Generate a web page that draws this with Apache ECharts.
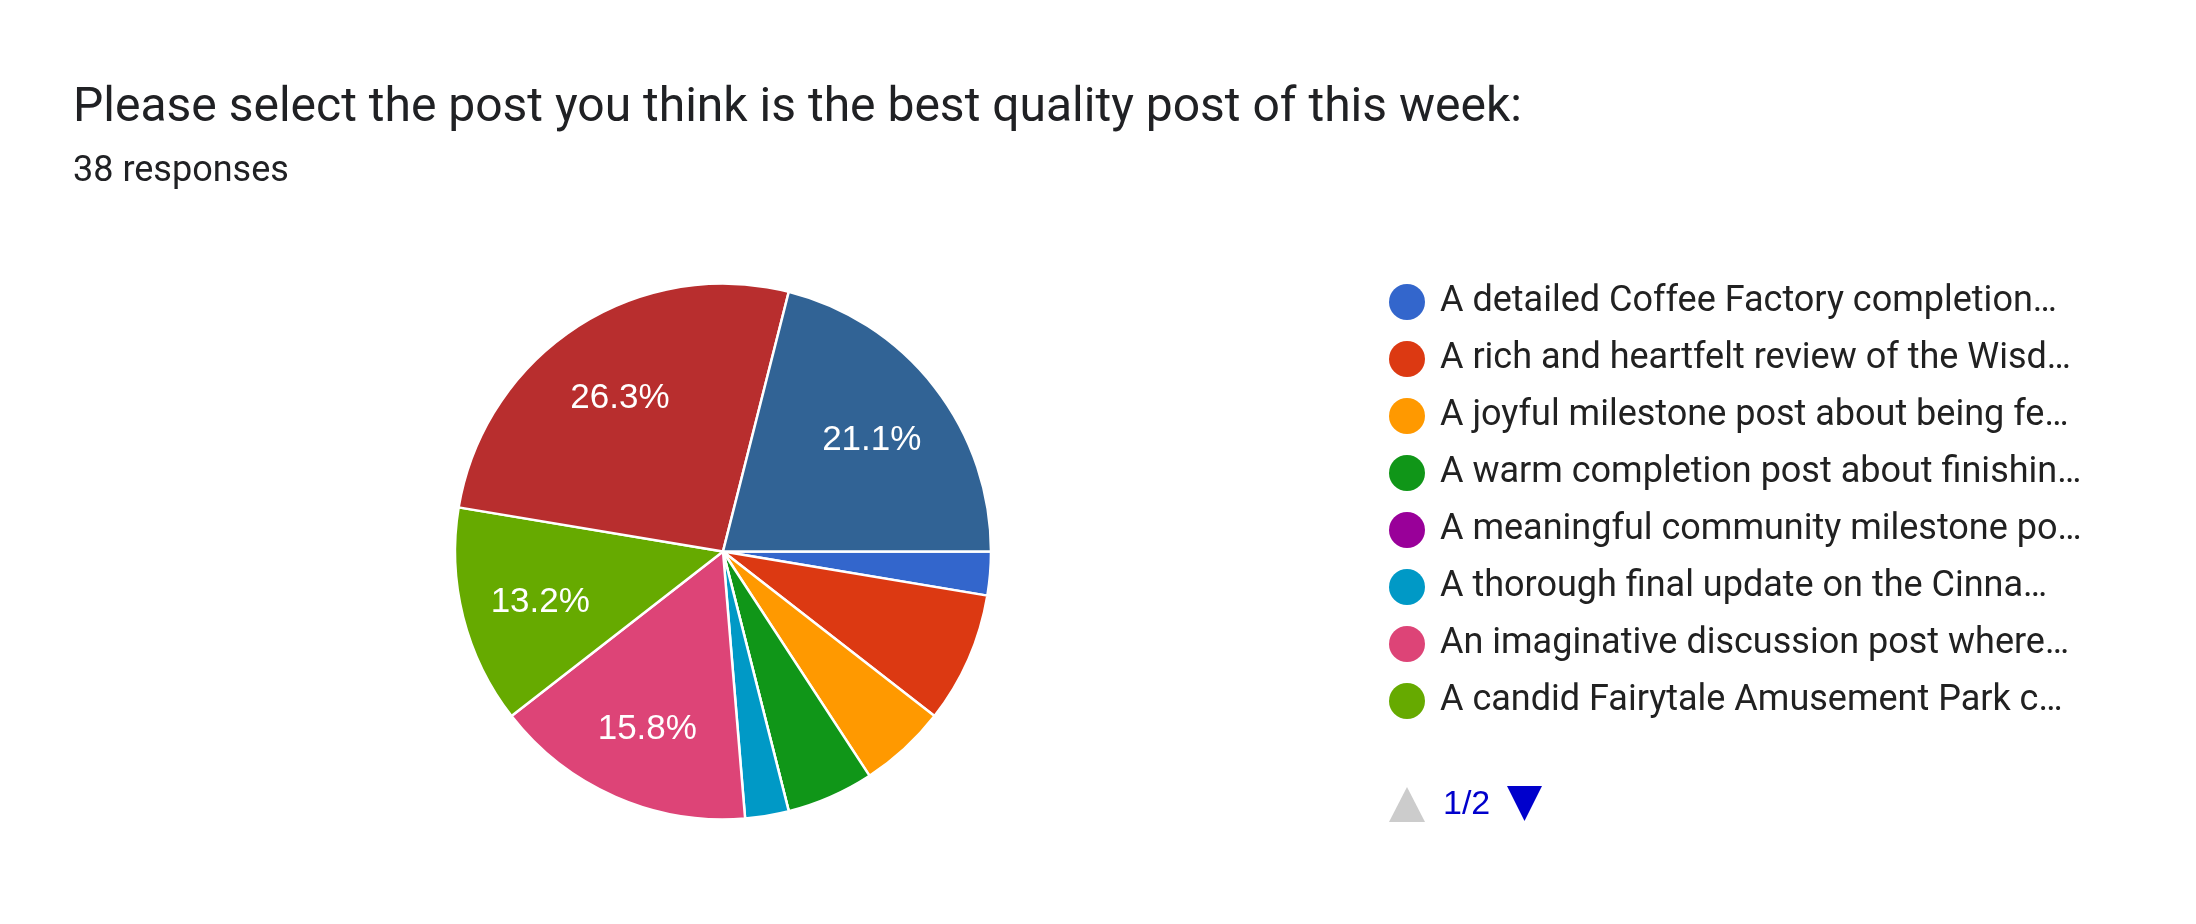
<!DOCTYPE html>
<html><head><meta charset="utf-8">
<script src="https://cdn.jsdelivr.net/npm/echarts@6/dist/echarts.min.js"></script>
<style>html,body{margin:0;padding:0;background:#fff}#c{width:2196px;height:924px}</style>
</head><body><div id="c"></div>
<script>
const titleText = 'Please select the post you think is the best quality post of this week:';
const subtitleText = '38 responses';
const categories = [
  'A detailed Coffee Factory completion\u2026',
  'A rich and heartfelt review of the Wisd\u2026',
  'A joyful milestone post about being fe\u2026',
  'A warm completion post about finishin\u2026',
  'A meaningful community milestone po\u2026',
  'A thorough final update on the Cinna\u2026',
  'An imaginative discussion post where\u2026',
  'A candid Fairytale Amusement Park c\u2026',
  'Page 2 option A\u2026',
  'Page 2 option B\u2026'
];
const votes = [1, 3, 2, 2, 0, 1, 6, 5, 10, 8];
const colors = ['#3366cc', '#dc3912', '#ff9900', '#109618', '#990099', '#0099c6', '#dd4477', '#66aa00', '#b82e2e', '#316395'];
const legendNames = categories.slice(0, 8);
const pagerText = '1/2';

const total = votes.reduce((a, b) => a + b, 0);
const pieData = categories.map((n, i) => ({ name: n, value: votes[i], itemStyle: { color: colors[i] } }));
const labelData = categories.map((n, i) => ({ name: n, value: votes[i] }));

const chart = echarts.init(document.getElementById('c'), null, { renderer: 'canvas' });
chart.setOption({
  animation: false,
  backgroundColor: '#ffffff',
  title: {
    text: titleText, subtext: subtitleText, left: 73, top: 85, itemGap: 20.5, padding: 0,
    textStyle: { fontFamily: 'Roboto', fontSize: 48, fontWeight: 'normal', color: '#202124', lineHeight: 48 },
    subtextStyle: { fontFamily: 'Roboto', fontSize: 36, color: '#202124', lineHeight: 36 }
  },
  legend: {
    orient: 'vertical', left: 1389, top: 284, padding: 0,
    itemWidth: 36, itemHeight: 36, itemGap: 21, icon: 'circle',
    data: legendNames, selectedMode: false,
    itemStyle: { borderWidth: 0 },
    textStyle: { fontFamily: 'Roboto', fontSize: 36, color: '#212121', lineHeight: 36, padding: [0, 0, 0, 10] }
  },
  graphic: [
    { type: 'polygon', shape: { points: [[1389, 822], [1407, 787], [1425, 822]] }, style: { fill: '#cccccc' } },
    { type: 'text', x: 1443, y: 805, style: { text: pagerText, fill: '#0000cc', font: '34px "Liberation Sans", Arial', textVerticalAlign: 'middle', verticalAlign: 'middle' } },
    { type: 'polygon', shape: { points: [[1507, 786], [1542, 786], [1524.5, 821]] }, style: { fill: '#0000cc' } }
  ],
  series: [
    {
      type: 'pie', center: [723, 551.5], radius: [0, 268], startAngle: 0, clockwise: true,
      data: pieData, label: { show: false }, labelLine: { show: false },
      itemStyle: { borderColor: '#ffffff', borderWidth: 2.5 },
      emphasis: { disabled: true }, silent: true
    },
    {
      type: 'pie', center: [723, 551.5], radius: [103, 268], startAngle: 0, clockwise: true,
      data: labelData,
      itemStyle: { color: 'rgba(0,0,0,0)', borderWidth: 0 },
      label: {
        show: true, position: 'inside', color: '#ffffff',
        fontFamily: '"Liberation Sans", Arial', fontSize: 35,
        formatter: p => (p.value / total < 0.1 ? '' : (p.value / total * 100).toFixed(1) + '%')
      },
      labelLayout: { dy: 5 },
      labelLine: { show: false }, emphasis: { disabled: true }, silent: true
    }
  ]
});
</script></body></html>
